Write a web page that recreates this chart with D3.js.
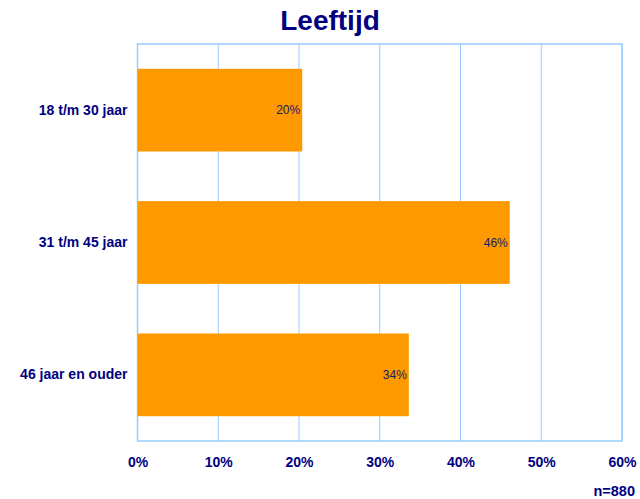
<!DOCTYPE html>
<html><head><meta charset="utf-8">
<script src="https://cdn.jsdelivr.net/npm/d3@7"></script>
<style>body{margin:0;background:#fff}</style>
</head><body>
<script>
const categories = ["18 t/m 30 jaar", "31 t/m 45 jaar", "46 jaar en ouder"];
const values = [20.4, 46.1, 33.6];
const valueLabels = ["20%", "46%", "34%"];
const tickValues = [0, 10, 20, 30, 40, 50, 60];
const title = "Leeftijd";
const note = "n=880";

const W = 640, H = 499;
const m = {left: 137.5, right: 18, top: 44, bottom: 58};
const svg = d3.select("body").append("svg").attr("width", W).attr("height", H);
const font = "Liberation Sans, Arial, sans-serif";
const navy = "#000080";

const x = d3.scaleLinear().domain([0, 60]).range([m.left, W - m.right]);
const y = d3.scaleBand().domain(categories).range([m.top, H - m.bottom]).paddingInner(0.375).paddingOuter(0.1875);

// gridlines
svg.append("g").selectAll("line").data(tickValues).join("line")
  .attr("x1", d => x(d)).attr("x2", d => x(d))
  .attr("y1", m.top).attr("y2", H - m.bottom)
  .attr("stroke", "#99CCFF").attr("stroke-width", 1);
svg.append("rect").attr("x", x(0)).attr("y", m.top)
  .attr("width", x(60) - x(0)).attr("height", H - m.bottom - m.top)
  .attr("fill", "none").attr("stroke", "#99CCFF").attr("stroke-width", 1.5);

// bars
svg.append("g").selectAll("rect").data(values).join("rect")
  .attr("x", x(0)).attr("y", (d, i) => y(categories[i]))
  .attr("width", d => x(d) - x(0)).attr("height", y.bandwidth())
  .attr("fill", "#FF9900");

// value labels
svg.append("g").selectAll("text").data(values).join("text")
  .attr("x", d => x(d) - 2).attr("y", (d, i) => y(categories[i]) + y.bandwidth() / 2 + 4)
  .attr("text-anchor", "end").attr("font-family", font).attr("font-size", 12)
  .attr("fill", "#1a1a66").text((d, i) => valueLabels[i]);

// y axis labels
const yAxis = d3.axisLeft(y).tickSize(0).tickPadding(10);
const gy = svg.append("g").attr("transform", `translate(${x(0)},0)`).call(yAxis);
gy.select(".domain").remove();
gy.selectAll("text").attr("font-family", font).attr("font-size", 14)
  .attr("font-weight", "bold").attr("fill", navy);

// x axis labels
const xAxis = d3.axisBottom(x).tickValues(tickValues).tickFormat(d => d + "%").tickSize(0).tickPadding(16);
const gx = svg.append("g").attr("transform", `translate(0,${H - m.bottom})`).call(xAxis);
gx.select(".domain").remove();
gx.selectAll("text").attr("font-family", font).attr("font-size", 14)
  .attr("font-weight", "bold").attr("fill", navy);

// title
svg.append("text").attr("x", 330).attr("y", 30).attr("text-anchor", "middle")
  .attr("font-family", font).attr("font-size", 28).attr("font-weight", "bold")
  .attr("fill", navy).text(title);

// note
svg.append("text").attr("x", 635).attr("y", 496).attr("text-anchor", "end")
  .attr("font-family", font).attr("font-size", 14.5).attr("font-weight", "bold")
  .attr("fill", navy).text(note);
</script>
</body></html>
